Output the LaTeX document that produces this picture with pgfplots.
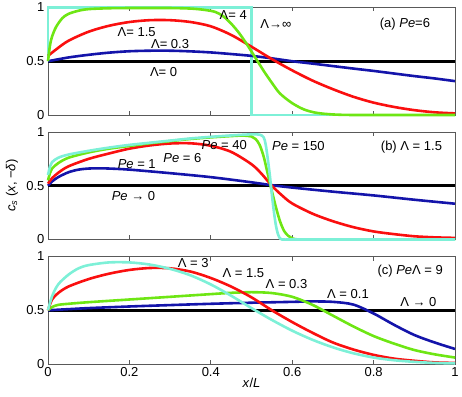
\documentclass[border=0pt]{standalone}
\usepackage{fontspec}
\setmainfont{Liberation Sans}
\usepackage{pgfplots}
\pgfplotsset{compat=1.18}

\definecolor{cblue}{RGB}{20,20,170}
\definecolor{cred}{RGB}{250,15,15}
\definecolor{cgreen}{RGB}{110,230,20}
\definecolor{ccyan}{RGB}{125,240,215}
\newcommand{\lf}{\fontsize{13}{15}\selectfont}

\pgfplotsset{
  panel/.style={
    width=407pt, height=107.5pt, scale only axis,
    xmin=0, xmax=1, ymin=0, ymax=1,
    xtick={0,0.2,0.4,0.6,0.8,1}, ytick={0,0.5,1},
    tick align=inside, xtick pos=both, ytick pos=left,
    ytick style={draw=none},
    major tick length=4pt,
    axis line style={draw=black!65, line width=0.8pt},
    x tick style={black!65, line width=0.8pt},
    tick label style={font=\lf},
    label style={font=\lf},
    /pgf/number format/assume math mode=true,
    clip=false,
  },
  cl/.style={line width=2.6pt, smooth, tension=0.5},
}

\begin{document}
\begin{tikzpicture}[every node/.style={font=\lf}]
\useasboundingbox (-48pt,-32pt) rectangle (414pt,364pt);

% (a) Pe = 6
\begin{axis}[panel, at={(0,249pt)}, xticklabels=\empty]
\addplot[black, line width=3pt] coordinates {(0,0.5) (1,0.5)};
\addplot[ccyan, line width=2.6pt] coordinates {(0,0.5) (0,1) (0.5,1) (0.5,0) (1,0)};
\addplot[cblue, cl] coordinates {
 (0,0.5) (0.05,0.535) (0.1,0.56) (0.15,0.58) (0.2,0.593) (0.25,0.598) (0.3,0.598)
 (0.35,0.592) (0.4,0.582) (0.45,0.567) (0.5,0.55) (0.55,0.527) (0.6,0.5) (0.65,0.478)
 (0.7,0.455) (0.75,0.432) (0.8,0.41) (0.85,0.386) (0.9,0.362) (0.95,0.34) (1,0.315)};
\addplot[cred, cl] coordinates {
 (0,0.55) (0.02,0.61) (0.05,0.69) (0.1,0.775) (0.15,0.83) (0.2,0.865) (0.25,0.882)
 (0.3,0.882) (0.35,0.865) (0.4,0.825) (0.45,0.745) (0.5,0.635) (0.55,0.52) (0.6,0.415)
 (0.65,0.32) (0.7,0.24) (0.75,0.17) (0.8,0.115) (0.85,0.075) (0.9,0.045) (0.95,0.025) (1,0.015)};
\addplot[cgreen, cl] coordinates {
 (0,0.5) (0.005,0.65) (0.01,0.73) (0.02,0.82) (0.035,0.9) (0.05,0.94) (0.075,0.97)
 (0.1,0.985) (0.15,0.993) (0.2,0.995) (0.3,0.995) (0.35,0.99) (0.38,0.98) (0.41,0.96)
 (0.43,0.92) (0.45,0.85) (0.47,0.76) (0.49,0.65) (0.51,0.53) (0.53,0.41) (0.55,0.3)
 (0.57,0.2) (0.6,0.11) (0.63,0.05) (0.66,0.02) (0.7,0.005) (0.75,0) (0.85,0) (1,0)};
\node at (axis cs:0.455,0.93) {Λ= 4};
\node at (axis cs:0.56,0.85) {Λ→∞};
\node at (axis cs:0.877,0.845) {(a) \textit{Pe}=6};
\node at (axis cs:0.218,0.77) {Λ= 1.5};
\node at (axis cs:0.30,0.66) {Λ= 0.3};
\node at (axis cs:0.284,0.40) {Λ= 0};
\end{axis}

% (b) Lambda = 1.5
\begin{axis}[panel, at={(0,124.5pt)}, xticklabels=\empty,
  ylabel={\textit{c}\textsubscript{\textit{s}} (\textit{x}, −\textit{δ})},
  every axis y label/.style={at={(axis description cs:0,0.5)}, xshift=-36pt, rotate=90, anchor=center, font=\lf}]
\addplot[black, line width=3pt] coordinates {(0,0.5) (1,0.5)};
\addplot[cblue, cl] coordinates {
 (0,0.5) (0.01,0.54) (0.025,0.58) (0.05,0.625) (0.075,0.65) (0.1,0.66) (0.125,0.662)
 (0.15,0.66) (0.2,0.65) (0.3,0.617) (0.4,0.58) (0.5,0.532) (0.55,0.505) (0.6,0.483)
 (0.7,0.445) (0.8,0.41) (0.9,0.37) (1,0.333)};
\addplot[cred, cl] coordinates {
 (0,0.52) (0.01,0.57) (0.025,0.62) (0.05,0.68) (0.1,0.75) (0.15,0.8) (0.2,0.845)
 (0.25,0.875) (0.3,0.893) (0.35,0.895) (0.4,0.872) (0.45,0.815) (0.5,0.7) (0.525,0.61)
 (0.55,0.5) (0.575,0.41) (0.6,0.335) (0.65,0.24) (0.7,0.17) (0.75,0.115) (0.8,0.075)
 (0.85,0.05) (0.9,0.03) (0.95,0.02) (1,0.015)};
\addplot[cgreen, cl] coordinates {
 (0,0.55) (0.005,0.62) (0.01,0.66) (0.025,0.71) (0.05,0.76) (0.1,0.81) (0.15,0.845)
 (0.2,0.87) (0.25,0.895) (0.3,0.915) (0.35,0.935) (0.4,0.95) (0.45,0.962) (0.48,0.967)
 (0.5,0.958) (0.51,0.935) (0.52,0.88) (0.53,0.77) (0.54,0.61) (0.55,0.45) (0.56,0.3)
 (0.57,0.17) (0.58,0.08) (0.59,0.035) (0.6,0.01) (0.62,0) (0.7,0) (1,0)};
\addplot[ccyan, cl] coordinates {
 (0,0.6) (0.005,0.68) (0.01,0.72) (0.025,0.76) (0.05,0.79) (0.1,0.825) (0.15,0.855)
 (0.2,0.88) (0.25,0.9) (0.3,0.92) (0.35,0.94) (0.4,0.955) (0.45,0.968) (0.5,0.978)
 (0.52,0.975) (0.53,0.95) (0.535,0.88) (0.54,0.75) (0.545,0.6) (0.55,0.42) (0.555,0.26)
 (0.56,0.13) (0.565,0.05) (0.57,0.01) (0.575,0) (0.6,0) (0.7,0) (1,0)};
\node at (axis cs:0.433,0.88) {\textit{Pe} = 40};
\node at (axis cs:0.615,0.87) {\textit{Pe} = 150};
\node at (axis cs:0.893,0.86) {(b) Λ = 1.5};
\node at (axis cs:0.33,0.76) {\textit{Pe} = 6};
\node at (axis cs:0.218,0.70) {\textit{Pe} = 1};
\node at (axis cs:0.21,0.40) {\textit{Pe} → 0};
\end{axis}

% (c) Pe*Lambda = 9
\begin{axis}[panel, at={(0,0pt)},
  xlabel={\textit{x}/\textit{L}},
  every axis x label/.style={at={(axis description cs:0.5,0)}, yshift=-19pt, anchor=center, font=\lf}]
\addplot[black, line width=3pt] coordinates {(0,0.5) (1,0.5)};
\addplot[cblue, cl] coordinates {
 (0,0.5) (0.05,0.51) (0.1,0.52) (0.2,0.535) (0.3,0.548) (0.4,0.56) (0.5,0.57)
 (0.6,0.578) (0.65,0.582) (0.7,0.578) (0.75,0.553) (0.8,0.47)
 (0.85,0.365) (0.9,0.27) (0.95,0.2) (1,0.14)};
\addplot[cgreen, cl] coordinates {
 (0,0.5) (0.01,0.53) (0.025,0.55) (0.05,0.56) (0.1,0.575) (0.2,0.6) (0.3,0.625)
 (0.4,0.65) (0.45,0.662) (0.5,0.668) (0.55,0.66) (0.6,0.625) (0.65,0.55) (0.7,0.45)
 (0.75,0.35) (0.8,0.26) (0.85,0.19) (0.9,0.13) (0.95,0.09) (1,0.06)};
\addplot[cred, cl] coordinates {
 (0,0.5) (0.01,0.6) (0.025,0.66) (0.05,0.72) (0.1,0.79) (0.15,0.84) (0.2,0.875)
 (0.25,0.893) (0.3,0.89) (0.35,0.86) (0.4,0.8) (0.45,0.72) (0.5,0.62) (0.55,0.5)
 (0.6,0.39) (0.65,0.29) (0.7,0.2) (0.75,0.135) (0.8,0.085) (0.85,0.05) (0.9,0.03)
 (0.95,0.015) (1,0.01)};
\addplot[ccyan, cl] coordinates {
 (0,0.5) (0.01,0.63) (0.025,0.74) (0.05,0.83) (0.075,0.89) (0.1,0.92) (0.15,0.945)
 (0.2,0.945) (0.25,0.925) (0.3,0.885) (0.35,0.825) (0.4,0.74) (0.45,0.635) (0.5,0.52)
 (0.55,0.41) (0.6,0.31) (0.65,0.225) (0.7,0.155) (0.75,0.1) (0.8,0.06) (0.85,0.035)
 (0.9,0.02) (0.95,0.01) (1,0.005)};
\node at (axis cs:0.357,0.94) {Λ = 3};
\node at (axis cs:0.48,0.85) {Λ = 1.5};
\node at (axis cs:0.586,0.74) {Λ = 0.3};
\node at (axis cs:0.737,0.65) {Λ = 0.1};
\node at (axis cs:0.91,0.575) {Λ → 0};
\node at (axis cs:0.89,0.865) {(c) \textit{Pe}Λ = 9};
\end{axis}
\end{tikzpicture}
\end{document}
